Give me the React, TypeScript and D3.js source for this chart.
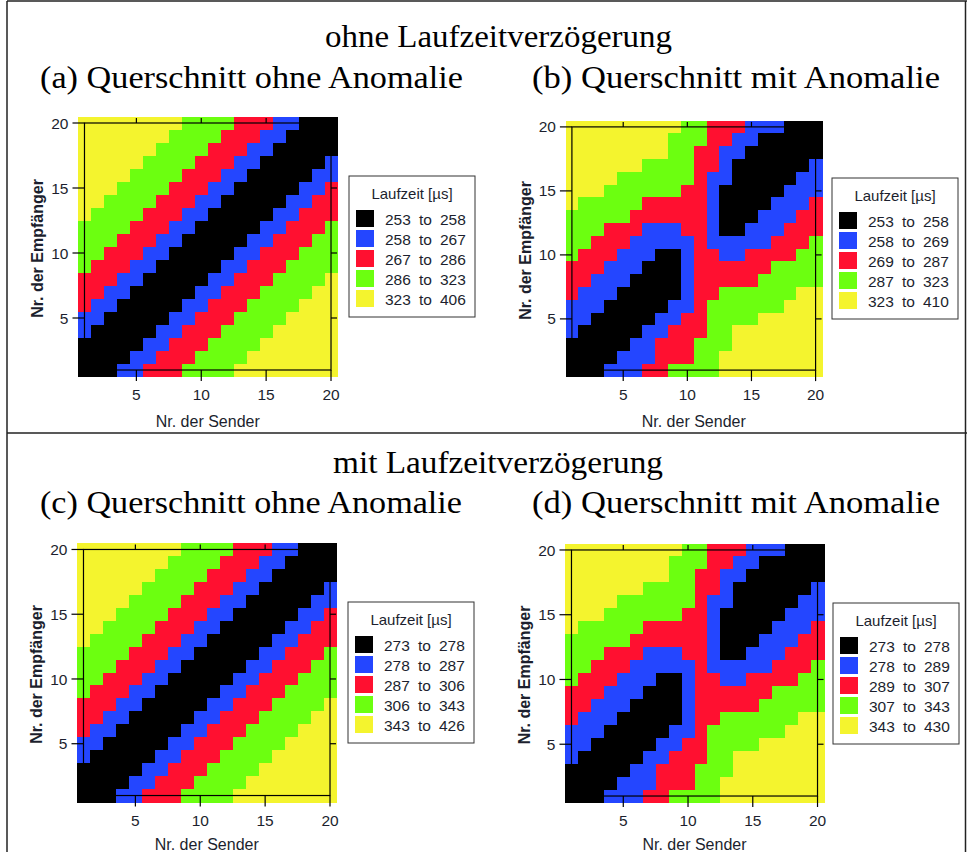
import React, { useRef, useEffect } from 'react';
import * as d3 from 'd3';

// cell classes: K=black, B=blue, R=red, G=green, Y=yellow
const classKeys = ['K', 'B', 'R', 'G', 'Y'];
const classColors = ['#000000', '#2446ff', '#ff1030', '#6cff10', '#f4f42e'];

const senders = [1, 2, 3, 4, 5, 6, 7, 8, 9, 10, 11, 12, 13, 14, 15, 16, 17, 18, 19, 20];
const receivers = [20, 19, 18, 17, 16, 15, 14, 13, 12, 11, 10, 9, 8, 7, 6, 5, 4, 3, 2, 1];
const ticks = [5, 10, 15, 20];

// rows from receiver 20 (top) down to receiver 1, columns sender 1..20
const gridOhne = [
  'YYYYYYYYGGGGRRRBBKKK',
  'YYYYYYYGGGGRRRBBKKKK',
  'YYYYYYGGGGRRRBBKKKKK',
  'YYYYYGGGGRRRBBKKKKKB',
  'YYYYGGGGRRRBBKKKKKBB',
  'YYYGGGGRRRBBKKKKKBBR',
  'YYGGGGRRRBBKKKKKBBRR',
  'YGGGGRRRBBKKKKKBBRRR',
  'GGGGRRRBBKKKKKBBRRRG',
  'GGGRRRBBKKKKKBBRRRGG',
  'GGRRRBBKKKKKBBRRRGGG',
  'GRRRBBKKKKKBBRRRGGGG',
  'RRRBBKKKKKBBRRRGGGGY',
  'RRBBKKKKKBBRRRGGGGYY',
  'RBBKKKKKBBRRRGGGGYYY',
  'BBKKKKKBBRRRGGGGYYYY',
  'BKKKKKBBRRRGGGGYYYYY',
  'KKKKKBBRRRGGGGYYYYYY',
  'KKKKBBRRRGGGGYYYYYYY',
  'KKKBBRRRGGGGYYYYYYYY',
];

const gridMit = [
  'YYYYYYYYYGGRRRBBBKKK',
  'YYYYYYYYGGGRRBBKKKKK',
  'YYYYYYYYGGRRBBKKKKKK',
  'YYYYYYGGGGRRBKKKKKKB',
  'YYYYGGGGGGRBBKKKKKBB',
  'YYYGGGGGGRRBKKKKKBBB',
  'YGGGGGRRRRRBKKKKBBBR',
  'GGGGGRRRRRRBKKKBBBRR',
  'GGGRRRBBBRRBKKBBBRRR',
  'GGRRRBBBBBRBBBBBRRRG',
  'GRRRBBBKKBRRBBRRRRGG',
  'RRRBBBKKKBRRRRRRGGGG',
  'RRBBBKKKKBRRRRRGGGGG',
  'RBBBKKKKKBRRGGGGGGYY',
  'BBBKKKKKBBRGGGGGGYYY',
  'BBKKKKKBBRRGGGGYYYYY',
  'BKKKKKBBRRRGGYYYYYYY',
  'KKKKKBBRRRGGGYYYYYYY',
  'KKKKBBBRRRGGYYYYYYYY',
  'KKKBBBRRGGGGYYYYYYYY',
];

const legendA = [[253, 258], [258, 267], [267, 286], [286, 323], [323, 406]];
const legendB = [[253, 258], [258, 269], [269, 287], [287, 323], [323, 410]];
const legendC = [[273, 278], [278, 287], [287, 306], [306, 343], [343, 426]];
const legendD = [[273, 278], [278, 289], [289, 307], [307, 343], [343, 430]];

const sansFont = '"Liberation Sans", Arial, sans-serif';
const serifFont = '"Liberation Serif", "Times New Roman", serif';
const textColor = '#1c1f2e';

const panels = [
  { grid: gridOhne, legend: legendA, left: 78, right: 337.5, top: 116.5, bottom: 376.5, lx: 349, ly: 176, titleY: 427 },
  { grid: gridMit, legend: legendB, left: 565.5, right: 822, top: 120.5, bottom: 376.5, lx: 832, ly: 178, titleY: 427 },
  { grid: gridOhne, legend: legendC, left: 77, right: 336.5, top: 543, bottom: 802, lx: 348, ly: 602, titleY: 850 },
  { grid: gridMit, legend: legendD, left: 565, right: 824, top: 543.5, bottom: 802.5, lx: 833, ly: 603, titleY: 850 },
];

const headings = [
  { text: 'ohne Laufzeitverzögerung', x: 325, y: 47, len: 347 },
  { text: '(a) Querschnitt ohne Anomalie', x: 40, y: 88, len: 423 },
  { text: '(b) Querschnitt mit Anomalie', x: 532, y: 88, len: 408 },
  { text: 'mit Laufzeitverzögerung', x: 333, y: 473, len: 330 },
  { text: '(c) Querschnitt ohne Anomalie', x: 40, y: 513, len: 422 },
  { text: '(d) Querschnitt mit Anomalie', x: 532, y: 513, len: 408 },
];

function drawPanel(svg, p) {
  const g = svg.append('g');
  const x = d3.scaleLinear().domain([0.5, 20.5]).range([p.left, p.right]);
  const y = d3.scaleLinear().domain([0.5, 20.5]).range([p.bottom, p.top]);

  const cells = [];
  p.grid.forEach((row, ri) => {
    row.split('').forEach((c, ci) => {
      cells.push({ s: senders[ci], e: receivers[ri], k: classKeys.indexOf(c) });
    });
  });

  g.selectAll('rect.cell')
    .data(cells)
    .join('rect')
    .attr('class', 'cell')
    .attr('x', (d) => x(d.s - 0.5))
    .attr('y', (d) => y(d.e + 0.5))
    .attr('width', x(1.5) - x(0.5) + 0.6)
    .attr('height', y(0.5) - y(1.5) + 0.6)
    .attr('shape-rendering', 'crispEdges')
    .attr('fill', (d) => classColors[d.k]);

  // frame from 1 to 20
  const fx0 = x(1), fx1 = x(20), fy0 = y(20), fy1 = y(1);
  g.append('rect')
    .attr('x', fx0).attr('y', fy0)
    .attr('width', fx1 - fx0).attr('height', fy1 - fy0)
    .attr('fill', 'none').attr('stroke', '#000').attr('stroke-width', 1.2);

  const tickLines = [];
  ticks.forEach((t) => {
    tickLines.push([x(t), fy1, x(t), fy1 + 11]);
    tickLines.push([x(t), fy0, x(t), fy0 - 5]);
    tickLines.push([fx0, y(t), fx0 - 12, y(t)]);
    tickLines.push([fx1, y(t), fx1 + 6, y(t)]);
  });
  g.selectAll('line.tick')
    .data(tickLines)
    .join('line')
    .attr('x1', (d) => d[0]).attr('y1', (d) => d[1])
    .attr('x2', (d) => d[2]).attr('y2', (d) => d[3])
    .attr('stroke', '#000').attr('stroke-width', 1.2);

  g.selectAll('text.xt')
    .data(ticks)
    .join('text')
    .attr('x', (d) => x(d))
    .attr('y', fy1 + 30)
    .attr('text-anchor', 'middle')
    .text((d) => d);

  g.selectAll('text.yt')
    .data(ticks)
    .join('text')
    .attr('x', fx0 - 16)
    .attr('y', (d) => y(d))
    .attr('dy', '0.36em')
    .attr('text-anchor', 'end')
    .text((d) => d);

  g.selectAll('text')
    .attr('font-family', sansFont)
    .attr('font-size', 15.5)
    .attr('fill', textColor);

  g.append('text')
    .attr('x', (p.left + p.right) / 2)
    .attr('y', p.titleY)
    .attr('text-anchor', 'middle')
    .attr('font-family', sansFont)
    .attr('font-size', 16)
    .attr('fill', textColor)
    .text('Nr. der Sender');

  g.append('text')
    .attr('transform', `translate(${p.left - 35},${(p.top + p.bottom) / 2 + 2}) rotate(-90)`)
    .attr('text-anchor', 'middle')
    .attr('font-family', sansFont)
    .attr('font-size', 16)
    .attr('font-weight', 'bold')
    .attr('fill', textColor)
    .text('Nr. der Empfänger');

  // legend
  const lg = g.append('g').attr('transform', `translate(${p.lx},${p.ly})`);
  lg.append('rect')
    .attr('width', 126).attr('height', 141)
    .attr('fill', '#fff').attr('stroke', '#333').attr('stroke-width', 1);
  lg.append('text')
    .attr('x', 63).attr('y', 23)
    .attr('text-anchor', 'middle')
    .attr('font-family', sansFont).attr('font-size', 15)
    .attr('fill', textColor)
    .text('Laufzeit [µs]');
  const rows = lg.selectAll('g.row')
    .data(p.legend)
    .join('g')
    .attr('transform', (d, i) => `translate(7,${34 + i * 20})`);
  rows.append('rect')
    .attr('width', 18).attr('height', 17)
    .attr('fill', (d, i) => classColors[i]);
  const rowText = [
    { dx: 29, f: (d) => d[0] },
    { dx: 63, f: () => 'to' },
    { dx: 84, f: (d) => d[1] },
  ];
  rowText.forEach((rt) => {
    rows.append('text')
      .attr('x', rt.dx).attr('y', 15)
      .attr('font-family', sansFont).attr('font-size', 15.5)
      .attr('fill', textColor)
      .text(rt.f);
  });
}

function App() {
  const svgRef = useRef(null);

  useEffect(() => {
    const svg = d3.select(svgRef.current);
    svg.selectAll('*').remove();

    svg.append('rect').attr('width', 967).attr('height', 852).attr('fill', '#fff');

    // outer frame and divider
    const borders = [[7, 1, 967, 1], [7, 1, 7, 852], [965.5, 1, 965.5, 852], [7, 433, 967, 433]];
    svg.selectAll('line.border')
      .data(borders)
      .join('line')
      .attr('x1', (d) => d[0]).attr('y1', (d) => d[1])
      .attr('x2', (d) => d[2]).attr('y2', (d) => d[3])
      .attr('stroke', '#222').attr('stroke-width', 1.5);

    svg.selectAll('text.heading')
      .data(headings)
      .join('text')
      .attr('x', (d) => d.x)
      .attr('y', (d) => d.y)
      .attr('textLength', (d) => d.len)
      .attr('lengthAdjust', 'spacingAndGlyphs')
      .attr('font-family', serifFont)
      .attr('font-size', 31)
      .attr('fill', '#000')
      .text((d) => d.text);

    panels.forEach((p) => drawPanel(svg, p));
  }, []);

  return (
    <svg
      ref={svgRef}
      width={967}
      height={852}
      style={{ position: 'absolute', left: 0, top: 0, display: 'block' }}
    ></svg>
  );
}

export default App;
